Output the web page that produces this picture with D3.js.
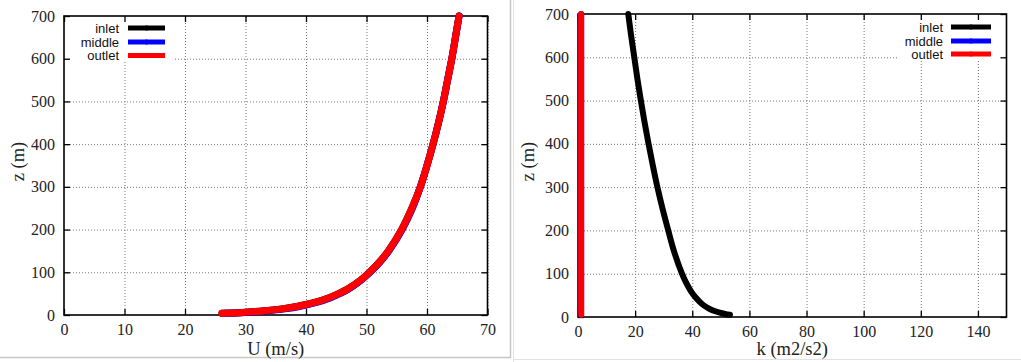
<!DOCTYPE html>
<html lang="en">
<head>
    <meta charset="UTF-8">
    <title>Inlet / middle / outlet profiles</title>
    <script src="https://d3js.org/d3.v7.min.js"></script>
    <style>
        body {
            margin: 0;
            background: #fff;
        }
        .tick text {
            font-family: "Liberation Serif", "Times New Roman", serif;
            font-size: 16px;
            fill: #222;
        }
        .axis-title {
            font-family: "Liberation Serif", "Times New Roman", serif;
            font-size: 18.5px;
            fill: #222;
        }
        .legend text {
            font-family: "Liberation Sans", Arial, sans-serif;
            font-size: 13px;
            fill: #111;
        }
        .grid line {
            stroke: #777;
            stroke-dasharray: 1,2;
        }
        .grid path {
            display: none;
        }
    </style>
</head>
<body>
    <svg id="chart" width="1021" height="362"></svg>

    <script>
        // heights (m) at which the U profiles were read
        const zU = [4, 6, 8, 10, 15, 20, 30, 40, 50, 60, 80, 100, 125, 150, 200, 250, 300, 350, 400, 450, 500, 550, 600, 650, 700];
        // velocity U (m/s)
        const uInlet  = [26.1, 29.5, 31.6, 33.2, 36.3, 38.5, 41.6, 43.7, 45.4, 46.8, 48.9, 50.5, 52.2, 53.6, 55.8, 57.5, 58.9, 60.0, 61.0, 61.9, 62.7, 63.4, 64.1, 64.7, 65.3];
        const uMiddle = [26.6, 30.0, 32.1, 33.7, 36.8, 38.9, 41.9, 44.0, 45.6, 47.0, 49.0, 50.6, 52.3, 53.7, 55.9, 57.6, 58.9, 60.0, 61.0, 61.9, 62.7, 63.4, 64.1, 64.7, 65.3];
        const uOutlet = [26.1, 29.5, 31.6, 33.2, 36.3, 38.5, 41.6, 43.7, 45.4, 46.8, 48.9, 50.5, 52.2, 53.6, 55.8, 57.5, 58.9, 60.0, 61.0, 61.9, 62.7, 63.4, 64.1, 64.7, 65.3];

        // heights (m) at which the k profiles were read
        const zK = [5, 7, 10, 15, 20, 30, 45, 60, 80, 100, 150, 200, 250, 300, 350, 400, 450, 500, 550, 600, 650, 700];
        // turbulent kinetic energy k (m2/s2)
        const kInlet  = [53.2, 51.5, 49.6, 47.3, 45.7, 43.4, 41.2, 39.5, 37.8, 36.4, 33.7, 31.6, 29.6, 27.8, 26.2, 24.7, 23.3, 22.0, 20.8, 19.7, 18.6, 17.6];
        const kMiddle = [1.1, 1.1, 1.1, 1.1, 1.1, 1.1, 1.1, 1.1, 1.1, 1.1, 1.1, 1.1, 1.1, 1.1, 1.1, 1.1, 1.1, 1.1, 1.1, 1.1, 1.1, 1.1];
        const kOutlet = [1.1, 1.1, 1.1, 1.1, 1.1, 1.1, 1.1, 1.1, 1.1, 1.1, 1.1, 1.1, 1.1, 1.1, 1.1, 1.1, 1.1, 1.1, 1.1, 1.1, 1.1, 1.1];

        const seriesNames = ["inlet", "middle", "outlet"];
        const seriesColors = ["#000000", "#0000ff", "#ff0000"];

        const zTicks = [0, 100, 200, 300, 400, 500, 600, 700];
        const uTicks = [0, 10, 20, 30, 40, 50, 60, 70];
        const kTicks = [0, 20, 40, 60, 80, 100, 120, 140];

        const svg = d3.select("#chart");

        // frames of the two screenshots sitting side by side
        svg.append("line").attr("x1", 510.5).attr("x2", 510.5).attr("y1", 0).attr("y2", 358)
            .attr("stroke", "#c8c8c8").attr("stroke-width", 1.5);
        svg.append("line").attr("x1", 0).attr("x2", 511).attr("y1", 357.5).attr("y2", 357.5)
            .attr("stroke", "#c8c8c8").attr("stroke-width", 1.5);
        svg.append("line").attr("x1", 513.5).attr("x2", 513.5).attr("y1", 0).attr("y2", 362)
            .attr("stroke", "#e2e2e2").attr("stroke-width", 1);
        svg.append("line").attr("x1", 513).attr("x2", 1021).attr("y1", 359.5).attr("y2", 359.5)
            .attr("stroke", "#e2e2e2").attr("stroke-width", 1);

        function drawPanel(opt) {
            const w = opt.right - opt.left;
            const h = opt.bottom - opt.top;
            const g = svg.append("g").attr("transform", `translate(${opt.left},${opt.top})`);

            const x = d3.scaleLinear().domain(opt.xDomain).range([0, w]);
            const y = d3.scaleLinear().domain([0, 700]).range([h, 0]);

            // grid
            g.append("g").attr("class", "grid")
                .attr("transform", `translate(0,${h})`)
                .call(d3.axisBottom(x).tickValues(opt.xTicks.slice(1)).tickSize(-h).tickFormat(""));
            g.append("g").attr("class", "grid")
                .call(d3.axisLeft(y).tickValues(zTicks.slice(1, -1)).tickSize(-w).tickFormat(""));

            // legend box hides the grid below it
            const lg = opt.legend;
            g.append("rect")
                .attr("x", lg.boxX0 - opt.left).attr("y", 1)
                .attr("width", lg.boxX1 - lg.boxX0).attr("height", lg.boxY1 - opt.top)
                .attr("fill", "#fff");

            // axes, ticks inward, mirrored
            const xb = g.append("g").attr("transform", `translate(0,${h})`)
                .call(d3.axisBottom(x).tickValues(opt.xTicks).tickSize(-6).tickPadding(6));
            const xt = g.append("g")
                .call(d3.axisTop(x).tickValues(opt.xTicks).tickSize(-6).tickFormat(""));
            const yl = g.append("g")
                .call(d3.axisLeft(y).tickValues(zTicks).tickSize(-6).tickPadding(9));
            const yr = g.append("g").attr("transform", `translate(${w},0)`)
                .call(d3.axisRight(y).tickValues(zTicks).tickSize(-6).tickFormat(""));
            [xb, xt, yl, yr].forEach(a => {
                a.select(".domain").remove();
                a.selectAll(".tick line").attr("stroke", "#000").attr("stroke-width", 1.3);
            });
            xb.selectAll(".tick text").attr("dy", "0.9em");

            g.append("rect").attr("width", w).attr("height", h)
                .attr("fill", "none").attr("stroke", "#000").attr("stroke-width", 1.6);

            // curves
            const line = d3.line()
                .x(d => x(d[0]))
                .y(d => y(d[1]))
                .curve(d3.curveCatmullRom);
            opt.series.forEach((vals, i) => {
                const pts = vals.map((v, j) => [v, opt.z[j]]);
                g.append("path")
                    .datum(pts)
                    .attr("fill", "none")
                    .attr("stroke", seriesColors[i])
                    .attr("stroke-width", opt.lineWidth)
                    .attr("stroke-linecap", "round")
                    .attr("stroke-linejoin", "round")
                    .attr("d", line);
            });

            // legend
            const leg = svg.append("g").attr("class", "legend");
            seriesNames.forEach((name, i) => {
                const yy = lg.rows[i];
                leg.append("text").attr("x", lg.textX).attr("y", yy)
                    .attr("text-anchor", "end").attr("dy", "0.35em").text(name);
                leg.append("line").attr("x1", lg.lineX0).attr("x2", lg.lineX1)
                    .attr("y1", yy).attr("y2", yy)
                    .attr("stroke", seriesColors[i]).attr("stroke-width", 5);
                leg.append("circle").attr("cx", (lg.lineX0 + lg.lineX1) / 2).attr("cy", yy)
                    .attr("r", 2.5).attr("fill", seriesColors[i]);
            });

            // axis titles
            svg.append("text").attr("class", "axis-title")
                .attr("x", opt.left + w / 2).attr("y", 355)
                .attr("text-anchor", "middle").text(opt.xTitle);
            svg.append("text").attr("class", "axis-title")
                .attr("transform", `translate(${opt.zTitleX},${opt.top + h / 2 - 4}) rotate(-90)`)
                .attr("text-anchor", "middle").attr("dy", "0.35em").text("z (m)");
        }

        drawPanel({
            left: 64, right: 487.5, top: 16, bottom: 315,
            xDomain: [0, 70], xTicks: uTicks,
            z: zU, series: [uInlet, uMiddle, uOutlet], lineWidth: 7,
            xTitle: "U (m/s)", zTitleX: 18,
            legend: { textX: 119, lineX0: 128, lineX1: 165, rows: [28, 42, 55.5],
                      boxX0: 65, boxX1: 173, boxY1: 61 }
        });

        drawPanel({
            left: 578, right: 1006.5, top: 14, bottom: 317,
            xDomain: [0, 150], xTicks: kTicks,
            z: zK, series: [kInlet, kMiddle, kOutlet], lineWidth: 6,
            xTitle: "k (m2/s2)", zTitleX: 528,
            legend: { textX: 943, lineX0: 951, lineX1: 991, rows: [27, 41, 54],
                      boxX0: 897, boxX1: 1005.5, boxY1: 60 }
        });
    </script>
</body>
</html>
